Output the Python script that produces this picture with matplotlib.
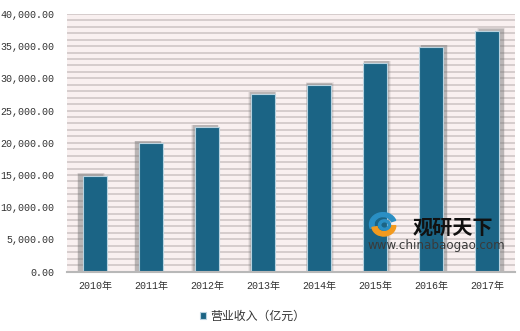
import matplotlib
matplotlib.use("Agg")
import matplotlib.pyplot as plt
from matplotlib.patches import Wedge

years = ["2010年", "2011年", "2012年", "2013年", "2014年", "2015年", "2016年", "2017年"]
revenue = [14900, 19920, 22400, 27520, 28970, 32340, 34830, 37400]
series_name = "营业收入（亿元）"
yticks = [0, 5000, 10000, 15000, 20000, 25000, 30000, 35000, 40000]

plt.rcParams['font.family'] = ['Liberation Mono', 'Noto Sans CJK SC', 'DejaVu Sans']

fig = plt.figure(figsize=(5.2, 3.31), dpi=100)
fig.patch.set_facecolor('white')
ax = fig.add_axes([67/520, 59.5/331, 448/520, 257.5/331])
ax.set_facecolor('#f9f0f0')

x = list(range(len(years)))
bw = 0.43

# grid lines every 1000
for v in range(0, 40001, 1000):
    ax.axhline(v, color='#d3caca', lw=1.3, zorder=1)

# shadows
for i, v in enumerate(revenue):
    off = (i - 3.5) * 0.022
    for extra, a in [(0.07, 0.10), (0.04, 0.18), (0.02, 0.25)]:
        ax.bar(i + off, v + 250 + extra * 2500, width=bw + extra, color='#707070',
               alpha=a, lw=0, zorder=2)

bars = ax.bar(x, revenue, width=bw, color='#1b6485', edgecolor='#b9d3e0', lw=0.8, zorder=3)

ax.set_xlim(-0.5, len(years) - 0.5)
ax.set_ylim(0, 40000)
ax.set_yticks(yticks)
ax.set_yticklabels([f"{v:,.2f}" for v in yticks], fontsize=7.2, color='#333333')
ax.set_xticks(x)
ax.set_xticklabels(years, fontsize=7.2, color='#333333')
ax.tick_params(axis='both', length=0)
ax.tick_params(axis='y', pad=9)
ax.tick_params(axis='x', pad=6.5)
for s in ['left', 'right', 'top']:
    ax.spines[s].set_visible(False)
ax.spines['bottom'].set_color('#b8b8b8')
ax.spines['bottom'].set_linewidth(1.5)
ax.spines['bottom'].set_zorder(4)

leg = fig.legend(handles=[bars], labels=[series_name], loc='center left',
                 bbox_to_anchor=(189/520, 1 - 316/331), frameon=False,
                 handlelength=0.55, handleheight=0.55, handletextpad=0.35,
                 prop={'family': ['Noto Sans CJK SC'], 'size': 8.6})
for t in leg.get_texts():
    t.set_color('#333333')

# watermark
fig.text(413/520, 1 - 227/331, "观研天下", fontsize=14.5, fontweight='bold',
         family=['Noto Sans CJK SC'], color='#111111', ha='left', va='center', zorder=10)
fig.text(436/520, 1 - 245/331, "www.chinabaogao.com", fontsize=8.6,
         family=['DejaVu Sans'], color='#3a3a3a', ha='center', va='center', zorder=10)
lax = fig.add_axes([368/520, 1 - 238/331, 30/520, 26/331])
lax.set_xlim(-1, 1); lax.set_ylim(-1, 1); lax.axis('off')
lax.add_patch(Wedge((0, 0.05), 0.9, 20, 200, width=0.3, color='#2a8fc4'))
lax.add_patch(Wedge((0.05, -0.05), 0.8, 190, 360, width=0.35, color='#f39a1e'))
lax.add_patch(Wedge((0.1, 0.0), 0.4, 0, 360, width=0.15, color='#2a8fc4'))

fig.savefig("out.png", dpi=100, facecolor='white')
